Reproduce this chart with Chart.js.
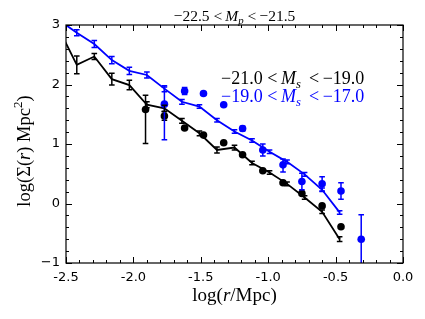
<!DOCTYPE html>
<html>
<head>
<meta charset="utf-8">
<script src="https://cdn.jsdelivr.net/npm/chart.js@4.4.0/dist/chart.umd.min.js"></script>
<style>
  html, body { margin: 0; padding: 0; background: #fff; }
</style>
</head>
<body>
<canvas id="c" width="425" height="319"></canvas>
<script>
// radial bins of the model curves (log r/Mpc)
const rLine = [-2.55, -2.42, -2.29, -2.16, -2.03, -1.90, -1.77, -1.64, -1.51, -1.38, -1.25, -1.12, -0.99, -0.86, -0.73, -0.60, -0.47];
const blackLine = [2.92, 2.33, 2.47, 2.09, 1.99, 1.66, 1.60, 1.39, 1.18, 0.90, 0.94, 0.68, 0.52, 0.33, 0.10, -0.14, -0.60];
const blackLineErr = [0, 0.15, 0.05, 0.10, 0.08, 0.05, 0.05, 0.04, 0.04, 0.05, 0.04, 0.03, 0.03, 0.03, 0.03, 0.03, 0.04];
const blueLine = [3.08, 2.87, 2.68, 2.41, 2.23, 2.16, 1.93, 1.71, 1.63, 1.40, 1.21, 1.06, 0.87, 0.70, 0.49, 0.23, -0.15];
const blueLineErr = [0, 0.05, 0.06, 0.06, 0.06, 0.05, 0.05, 0.04, 0.03, 0.03, 0.03, 0.03, 0.03, 0.03, 0.03, 0.03, 0.03];

// measured points
const rBlackDots = [-1.91, -1.77, -1.62, -1.48, -1.33, -1.19, -1.04, -0.89, -0.75, -0.60, -0.46];
const blackDots = [1.58, 1.47, 1.27, 1.15, 1.02, 0.82, 0.55, 0.35, 0.17, -0.04, -0.39];
const blackDotsHi = [0.24, 0.07, 0, 0, 0, 0, 0, 0, 0, 0, 0];
const blackDotsLo = [0.57, 0.07, 0, 0, 0, 0, 0, 0, 0, 0, 0];
const rBlueDots = [-1.77, -1.62, -1.48, -1.33, -1.19, -1.04, -0.89, -0.75, -0.60, -0.46, -0.31];
const blueDots = [1.67, 1.89, 1.85, 1.66, 1.26, 0.90, 0.65, 0.37, 0.33, 0.21, -0.60];
const blueDotsHi = [0.29, 0.06, 0.03, 0, 0.04, 0.10, 0.10, 0.14, 0.12, 0.14, 0.41];
const blueDotsLo = [0.60, 0.06, 0.03, 0, 0.04, 0.10, 0.12, 0.14, 0.12, 0.14, 1.00];

const xTicks = [-2.5, -2.0, -1.5, -1.0, -0.5, 0.0];
const yTicks = [-1, 0, 1, 2, 3];

const BLUE = '#0000ff';
const SERIF = '"Liberation Serif", "DejaVu Serif", serif';

function pts(xs, ys) { return xs.map((x, i) => ({ x: x, y: ys[i] })); }

// text with italic / sub / sup pieces
function richWidth(ctx, parts, size) {
  let w = 0;
  parts.forEach(p => {
    const s = (p[1] === 'isub' || p[1] === 'sup') ? size * 0.7 : size;
    ctx.font = (p[1] && p[1][0] === 'i' ? 'italic ' : '') + s + 'px ' + SERIF;
    w += ctx.measureText(p[0]).width;
  });
  return w;
}
function drawRich(ctx, parts, x, y, size, color, align) {
  let cx = x;
  if (align === 'center') cx = x - richWidth(ctx, parts, size) / 2;
  ctx.fillStyle = color;
  ctx.textBaseline = 'alphabetic';
  ctx.textAlign = 'left';
  parts.forEach(p => {
    let s = size, dy = 0;
    if (p[1] === 'isub') { s = size * 0.7; dy = size * 0.22; }
    if (p[1] === 'sup') { s = size * 0.7; dy = -size * 0.42; }
    ctx.font = (p[1] && p[1][0] === 'i' ? 'italic ' : '') + s + 'px ' + SERIF;
    ctx.fillText(p[0], cx, y + dy);
    cx += ctx.measureText(p[0]).width;
  });
}

const errorBars = {
  id: 'errorBars',
  afterDatasetsDraw(chart) {
    const ctx = chart.ctx, a = chart.chartArea;
    const xs = chart.scales.x, ys = chart.scales.y;
    ctx.save();
    ctx.beginPath();
    ctx.rect(a.left, a.top, a.right - a.left, a.bottom - a.top);
    ctx.clip();
    chart.data.datasets.forEach(ds => {
      if (!ds.errHi) return;
      ctx.strokeStyle = ds.errColor;
      ctx.lineWidth = 1.5;
      ds.data.forEach((p, i) => {
        const hi = ds.errHi[i], lo = ds.errLo[i];
        if (!hi && !lo) return;
        const px = xs.getPixelForValue(p.x);
        const y1 = ys.getPixelForValue(p.y + hi);
        const y2 = ys.getPixelForValue(p.y - lo);
        ctx.beginPath();
        ctx.moveTo(px, y1); ctx.lineTo(px, y2);
        ctx.moveTo(px - 2.8, y1); ctx.lineTo(px + 2.8, y1);
        ctx.moveTo(px - 2.8, y2); ctx.lineTo(px + 2.8, y2);
        ctx.stroke();
      });
    });
    ctx.restore();
  }
};

const decor = {
  id: 'decor',
  afterDraw(chart) {
    const ctx = chart.ctx, a = chart.chartArea;
    const xs = chart.scales.x, ys = chart.scales.y;
    ctx.save();
    // frame
    ctx.strokeStyle = '#000';
    ctx.lineWidth = 1.2;
    ctx.strokeRect(a.left, a.top, a.right - a.left, a.bottom - a.top);
    // inward ticks on all sides
    ctx.lineWidth = 1;
    ctx.beginPath();
    for (let i = 0; i <= 25; i++) {
      const px = Math.round(xs.getPixelForValue(-2.5 + i * 0.1)) + 0.5;
      const L = i % 5 === 0 ? 6 : 3;
      ctx.moveTo(px, a.bottom); ctx.lineTo(px, a.bottom - L);
      ctx.moveTo(px, a.top); ctx.lineTo(px, a.top + L);
    }
    for (let i = 0; i <= 20; i++) {
      const py = Math.round(ys.getPixelForValue(-1 + i * 0.2)) + 0.5;
      const L = i % 5 === 0 ? 6 : 3;
      ctx.moveTo(a.left, py); ctx.lineTo(a.left + L, py);
      ctx.moveTo(a.right, py); ctx.lineTo(a.right - L, py);
    }
    ctx.stroke();

    const cxm = (a.left + a.right) / 2;
    // title
    drawRich(ctx, [['\u221222.5 <\u2009', ''], ['M', 'i'], ['p', 'isub'], [' <\u2009\u221221.5', '']],
      cxm, 21, 15.5, '#000', 'center');
    // legend labels
    drawRich(ctx, [['\u221221.0 <\u2009', ''], ['M', 'i'], ['s', 'isub'], [' \u2009<\u2009\u221219.0', '']],
      221, 84, 18, '#000', 'left');
    drawRich(ctx, [['\u221219.0 <\u2009', ''], ['M', 'i'], ['s', 'isub'], [' \u2009<\u2009\u221217.0', '']],
      221, 102, 18, BLUE, 'left');
    // x title
    drawRich(ctx, [['log(', ''], ['r', 'i'], ['/Mpc)', '']], cxm, 301, 19, '#000', 'center');
    // y title
    ctx.translate(30, 151);
    ctx.rotate(-Math.PI / 2);
    drawRich(ctx, [['log(\u03a3(', ''], ['r', 'i'], [') Mpc', ''], ['2', 'sup'], [')', '']], 0, 0, 18.5, '#000', 'center');
    ctx.restore();
  }
};

new Chart(document.getElementById('c').getContext('2d'), {
  type: 'scatter',
  data: {
    datasets: [
      { data: pts(rBlackDots, blackDots), errHi: blackDotsHi, errLo: blackDotsLo, errColor: '#000',
        backgroundColor: '#000', borderWidth: 0, pointRadius: 3.8, showLine: false, clip: 0 },
      { data: pts(rBlueDots, blueDots), errHi: blueDotsHi, errLo: blueDotsLo, errColor: BLUE,
        backgroundColor: BLUE, borderWidth: 0, pointRadius: 3.8, showLine: false, clip: 0 },
      { data: pts(rLine, blueLine), errHi: blueLineErr, errLo: blueLineErr, errColor: BLUE,
        borderColor: BLUE, borderWidth: 1.8, pointRadius: 0, showLine: true, clip: 0 },
      { data: pts(rLine, blackLine), errHi: blackLineErr, errLo: blackLineErr, errColor: '#000',
        borderColor: '#000', borderWidth: 1.8, pointRadius: 0, showLine: true, clip: 0 }
    ]
  },
  options: {
    responsive: false,
    animation: false,
    devicePixelRatio: 1,
    layout: { padding: { left: 0, top: 25, right: 22, bottom: 0 } },
    plugins: { legend: { display: false }, tooltip: { enabled: false } },
    scales: {
      x: {
        type: 'linear', min: -2.5, max: 0,
        afterBuildTicks: s => { s.ticks = xTicks.map(v => ({ value: v })); },
        afterFit: s => { s.height = 56; },
        grid: { display: false, drawTicks: false },
        border: { display: false },
        ticks: { padding: 7, color: '#000', font: { family: '"DejaVu Sans"', size: 13 },
          maxRotation: 0, callback: v => v.toFixed(1) }
      },
      y: {
        type: 'linear', min: -1, max: 3,
        afterBuildTicks: s => { s.ticks = yTicks.map(v => ({ value: v })); },
        afterFit: s => { s.width = 66; },
        grid: { display: false, drawTicks: false },
        border: { display: false },
        ticks: { padding: 6, color: '#000', font: { family: '"DejaVu Sans"', size: 13 },
          callback: v => v < 0 ? '\u2212' + Math.abs(v) : String(v) }
      }
    }
  },
  plugins: [errorBars, decor]
});
</script>
</body>
</html>
